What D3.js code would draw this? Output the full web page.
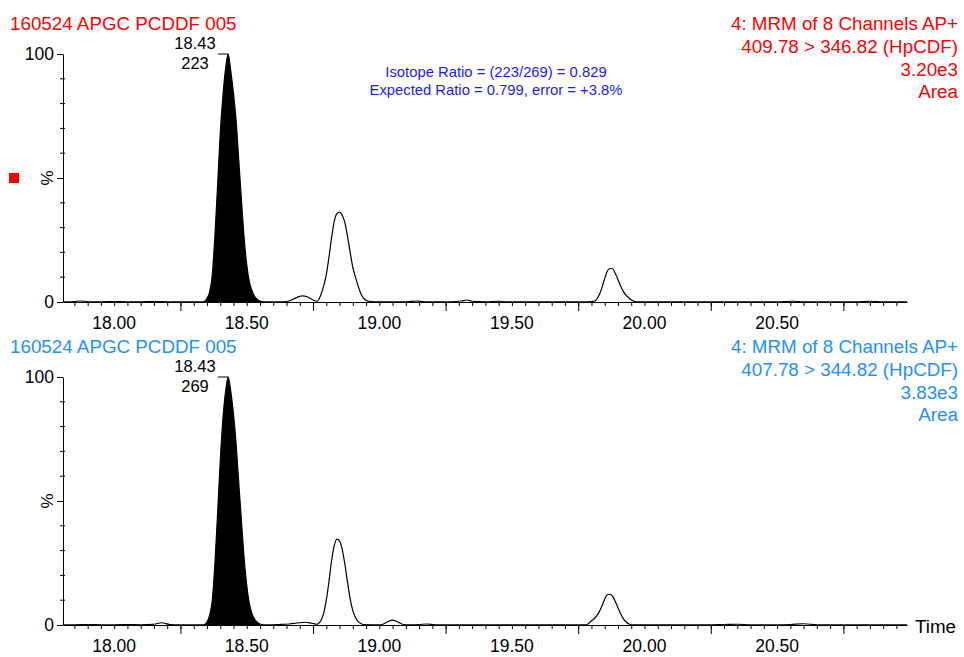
<!DOCTYPE html>
<meta charset="utf-8">
<style>

body { margin: 0; background: #fff; }

text {
  font-family: Arial, "Liberation Sans", sans-serif;
}

.trace {
  fill: none;
  stroke: #000;
  stroke-width: 1.2px;
}

.axis path, .axis line {
  stroke: #000;
  stroke-width: 1px;
}

</style>
<svg width="964" height="657"></svg>
<script src="https://d3js.org/d3.v7.min.js"></script>
<script>

// Chromatogram data: [time (min), intensity (%)]
var traceTop = [
  [17.807, 0.1], [17.83, 0.1], [17.85, 0.2], [17.87, 0.4], [17.89, 0.3], [17.91, 0.1],
  [17.95, 0.1], [18.00, 0.2], [18.05, 0.1], [18.10, 0.1], [18.15, 0.2], [18.20, 0.1],
  [18.25, 0.1], [18.30, 0.1], [18.33, 0.1],
  [18.34, 0.2], [18.35, 1.5], [18.36, 4], [18.37, 11], [18.38, 27], [18.39, 47],
  [18.40, 68], [18.41, 83], [18.42, 94], [18.43, 100], [18.44, 93], [18.45, 84],
  [18.46, 73], [18.47, 57], [18.48, 41], [18.49, 26], [18.50, 15], [18.51, 8],
  [18.52, 4.5], [18.53, 2.2], [18.54, 1], [18.55, 0.4], [18.56, 0.1],
  [18.60, 0.1], [18.64, 0.1], [18.66, 0.4], [18.68, 1.4], [18.70, 2.3], [18.71, 2.5],
  [18.73, 2], [18.75, 0.8], [18.765, 0.3],
  [18.78, 3], [18.79, 6.5], [18.80, 11], [18.81, 18], [18.82, 26], [18.83, 32.5],
  [18.84, 35.6], [18.85, 36.2], [18.86, 35], [18.87, 32], [18.88, 26.5], [18.89, 20],
  [18.90, 14], [18.91, 10], [18.92, 6.5], [18.93, 3.4], [18.94, 1.6], [18.95, 0.7],
  [18.96, 0.3], [18.98, 0.1], [19.02, 0.1], [19.06, 0.1], [19.10, 0.1], [19.14, 0.4],
  [19.17, 0.1], [19.22, 0.1], [19.27, 0.1], [19.31, 0.4], [19.33, 0.8], [19.35, 0.3],
  [19.40, 0.1], [19.45, 0.3], [19.48, 0.1], [19.55, 0.1], [19.60, 0.1], [19.65, 0.1],
  [19.70, 0.1], [19.75, 0.1], [19.79, 0.1], [19.80, 0.2],
  [19.81, 0.3], [19.82, 1.2], [19.83, 3], [19.84, 6], [19.85, 9.5], [19.86, 12.5],
  [19.87, 13.5], [19.88, 13.4], [19.89, 11.5], [19.90, 9], [19.91, 6.5], [19.92, 4.3],
  [19.93, 2.8], [19.94, 1.8], [19.95, 0.9], [19.96, 0.3], [19.97, 0.1],
  [20.00, 0.1], [20.05, 0.1], [20.10, 0.1], [20.15, 0.1], [20.20, 0.1], [20.25, 0.1],
  [20.30, 0.1], [20.35, 0.1], [20.40, 0.1], [20.45, 0.1], [20.50, 0.1], [20.56, 0.3],
  [20.60, 0.1], [20.65, 0.1], [20.70, 0.1], [20.75, 0.1], [20.80, 0.1], [20.85, 0.3],
  [20.90, 0.1], [20.95, 0.1], [20.99, 0.1]
];

var traceBottom = [
  [17.807, 0.1], [17.85, 0.1], [17.90, 0.2], [17.95, 0.1], [18.00, 0.1], [18.05, 0.2],
  [18.10, 0.1], [18.15, 0.3], [18.18, 0.9], [18.21, 0.2], [18.25, 0.1], [18.30, 0.1],
  [18.33, 0.1],
  [18.34, 0.2], [18.35, 1.2], [18.36, 4], [18.37, 10], [18.38, 25], [18.39, 45],
  [18.40, 66], [18.41, 83], [18.42, 94], [18.43, 100], [18.44, 94], [18.45, 85],
  [18.46, 73], [18.47, 57], [18.48, 42], [18.49, 27], [18.50, 16], [18.51, 8.5],
  [18.52, 4.5], [18.53, 2.3], [18.54, 1.1], [18.55, 0.4], [18.56, 0.1],
  [18.58, 0.1], [18.62, 0.2], [18.66, 0.4], [18.69, 0.8], [18.72, 1.1], [18.745, 0.7],
  [18.765, 0.3], [18.77, 0.6], [18.78, 1.8], [18.79, 4.7], [18.80, 10], [18.81, 17.5],
  [18.82, 26], [18.83, 32], [18.84, 34.6], [18.85, 33.8], [18.86, 30.5], [18.87, 24.5],
  [18.88, 17.3], [18.89, 10.5], [18.90, 5.8], [18.91, 3], [18.92, 1.4], [18.93, 0.6],
  [18.94, 0.2], [19.00, 0.1], [19.01, 0.2], [19.03, 1.2], [19.05, 2], [19.07, 1.2],
  [19.09, 0.2], [19.12, 0.1], [19.15, 0.2], [19.18, 0.4], [19.21, 0.1], [19.25, 0.1],
  [19.30, 0.1], [19.35, 0.1], [19.40, 0.1], [19.45, 0.1], [19.50, 0.1], [19.55, 0.1],
  [19.60, 0.1], [19.65, 0.1], [19.70, 0.1], [19.75, 0.1], [19.78, 0.1],
  [19.79, 0.7], [19.80, 1.7], [19.81, 2.5], [19.82, 3.8], [19.83, 5.5], [19.84, 7.8],
  [19.85, 10.5], [19.86, 12.2], [19.87, 12.4], [19.88, 11.5], [19.89, 9.5], [19.90, 7],
  [19.91, 4.5], [19.92, 2.6], [19.93, 1.3], [19.94, 0.5], [19.95, 0.1],
  [19.97, 0.1], [20.00, 0.1], [20.05, 0.1], [20.10, 0.1], [20.15, 0.1], [20.20, 0.1],
  [20.25, 0.1], [20.30, 0.2], [20.35, 0.3], [20.40, 0.1], [20.45, 0.1], [20.50, 0.1],
  [20.55, 0.2], [20.60, 0.5], [20.65, 0.1], [20.70, 0.1], [20.75, 0.1], [20.80, 0.1],
  [20.85, 0.1], [20.90, 0.1], [20.95, 0.1], [20.99, 0.1]
];

// Integrated peak window (filled black)
var peakWindow = [18.34, 18.56];

// Labels
var xLabelValues = [18.0, 18.5, 19.0, 19.5, 20.0, 20.5];
var yLabelValues = [0, 100];
var sampleName = "160524 APGC PCDDF 005";
var channelTop = ["4: MRM of 8 Channels AP+", "409.78 > 346.82 (HpCDF)", "3.20e3", "Area"];
var channelBottom = ["4: MRM of 8 Channels AP+", "407.78 > 344.82 (HpCDF)", "3.83e3", "Area"];
var peakRT = [18.43, 18.43];
var peakArea = [223, 269];
var ratioLines = ["Isotope Ratio = (223/269) = 0.829", "Expected Ratio = 0.799, error = +3.8%"];

var svg = d3.select("svg");

var red = "#ff0000",
    blue = "#1e90ff";

// Shared time scale
var x = d3.scaleLinear()
    .domain([17.807, 20.99])
    .range([63, 907]);

// Draw one chromatogram panel
function drawPanel(data, top, colour, channel, rt, area, showTime) {
  var y = d3.scaleLinear()
      .domain([0, 100])
      .range([top + 248, top]);

  var g = svg.append("g");
  var y0 = y(0);

  // filled integrated peak
  var fillData = data.filter(function(d) { return d[0] >= peakWindow[0] && d[0] <= peakWindow[1]; });
  g.append("path")
      .datum(fillData)
      .attr("fill", "#000")
      .attr("d", d3.area()
          .x(function(d) { return x(d[0]); })
          .y0(y0)
          .y1(function(d) { return y(d[1]); })
          .curve(d3.curveMonotoneX));

  // trace
  g.append("path")
      .datum(data)
      .attr("class", "trace")
      .attr("d", d3.line()
          .x(function(d) { return x(d[0]); })
          .y(function(d) { return y(d[1]); })
          .curve(d3.curveMonotoneX));

  // x axis: minor ticks every 0.05, long ticks at .25/.75
  g.append("g")
      .attr("class", "axis")
      .attr("transform", "translate(0," + y0 + ")")
      .call(d3.axisBottom(x)
          .tickValues(d3.range(17.85, 20.99, 0.05))
          .tickSize(4)
          .tickSizeOuter(0)
          .tickFormat(""));

  g.append("g")
      .attr("class", "axis")
      .attr("transform", "translate(0," + y0 + ")")
      .call(d3.axisBottom(x)
          .tickValues(d3.range(18.25, 20.99, 0.5))
          .tickSize(9)
          .tickSizeOuter(0)
          .tickFormat(""))
      .select(".domain").remove();

  g.selectAll(".xlabel")
      .data(xLabelValues)
      .enter().append("text")
      .attr("x", function(d) { return x(d); })
      .attr("y", y0 + 27)
      .attr("text-anchor", "middle")
      .attr("font-size", 17.5)
      .text(function(d) { return d.toFixed(2); });

  // y axis
  g.append("g")
      .attr("class", "axis")
      .attr("transform", "translate(63,0)")
      .call(d3.axisLeft(y)
          .tickValues([0, 50, 100])
          .tickSize(6)
          .tickSizeOuter(0)
          .tickFormat(""));

  g.selectAll(".yminor")
      .data(d3.range(10, 100, 10).filter(function(d) { return d !== 50; }))
      .enter().append("line")
      .attr("x1", 60).attr("x2", 65)
      .attr("y1", function(d) { return y(d); })
      .attr("y2", function(d) { return y(d); })
      .attr("stroke", "#000");

  g.selectAll(".ylabel")
      .data(yLabelValues)
      .enter().append("text")
      .attr("x", 54)
      .attr("y", function(d) { return y(d); })
      .attr("dy", "0.36em")
      .attr("text-anchor", "end")
      .attr("font-size", 17.5)
      .text(function(d) { return d; });

  g.append("text")
      .attr("transform", "translate(53," + y(50) + ") rotate(-90)")
      .attr("text-anchor", "middle")
      .attr("font-size", 17)
      .text("%");

  // titles
  g.append("text")
      .attr("x", 10)
      .attr("y", top - 24)
      .attr("fill", colour)
      .attr("font-size", 18.8)
      .text(sampleName);

  g.selectAll(".channel")
      .data(channel)
      .enter().append("text")
      .attr("x", 958)
      .attr("y", function(d, i) { return top - 24 + i * 22.8; })
      .attr("text-anchor", "end")
      .attr("fill", colour)
      .attr("font-size", 18.8)
      .text(function(d) { return d; });

  // peak annotation
  var apexY = y(100);
  g.append("text")
      .attr("x", 195)
      .attr("y", apexY - 5)
      .attr("text-anchor", "middle")
      .attr("font-size", 16.5)
      .text(rt.toFixed(2));

  g.append("text")
      .attr("x", 195)
      .attr("y", apexY + 15)
      .attr("text-anchor", "middle")
      .attr("font-size", 16.5)
      .text(area);

  g.append("line")
      .attr("x1", 218).attr("x2", x(rt))
      .attr("y1", apexY).attr("y2", apexY)
      .attr("stroke", "#000");

  if (showTime) {
    g.append("text")
        .attr("x", 915)
        .attr("y", y0 + 8)
        .attr("font-size", 18.8)
        .text("Time");
  }
}

drawPanel(traceTop, 54, red, channelTop, peakRT[0], peakArea[0], false);
drawPanel(traceBottom, 377, blue, channelBottom, peakRT[1], peakArea[1], true);

// isotope ratio note
svg.selectAll(".ratio")
    .data(ratioLines)
    .enter().append("text")
    .attr("x", 496)
    .attr("y", function(d, i) { return 77 + i * 17.5; })
    .attr("text-anchor", "middle")
    .attr("fill", "#1a1aff")
    .attr("font-size", 14.8)
    .text(function(d) { return d; });

// red marker square on the left
svg.append("rect")
    .attr("x", 9)
    .attr("y", 173)
    .attr("width", 10)
    .attr("height", 10)
    .attr("fill", red);

</script>
